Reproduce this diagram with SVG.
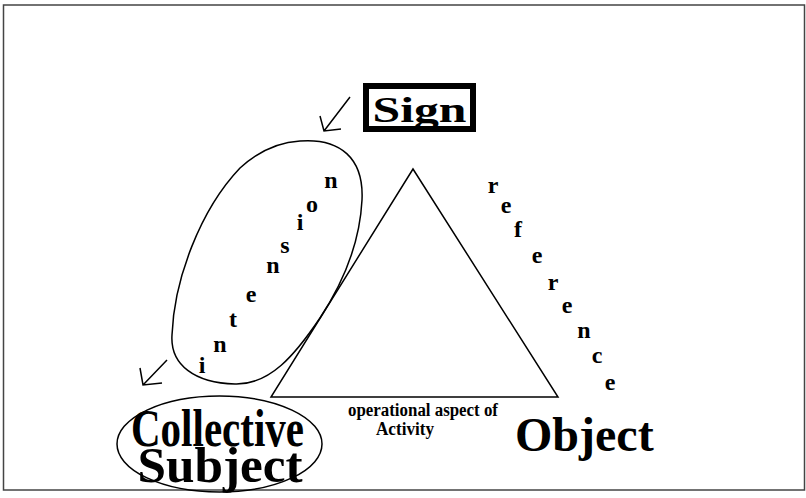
<svg xmlns="http://www.w3.org/2000/svg" width="806" height="498" viewBox="0 0 806 498">
<style>
.ln{fill:none;stroke:#000;stroke-width:1.5}
.t{font-family:"Liberation Serif","Times New Roman",serif;font-weight:bold;fill:#000}
.l{font-size:24px;text-anchor:middle}
</style>
<rect x="0" y="0" width="806" height="498" fill="#fff"/>
<rect id="frame" x="3.5" y="5" width="801" height="485" fill="none" stroke="#444" stroke-width="1.5"/>
<g id="triangle">
<polygon class="ln" points="413,169 271,397 558,397"/>
</g>
<g id="sign">
<rect x="366" y="86" width="107" height="43" fill="#fff" stroke="#000" stroke-width="6"/>
<text class="t" x="419.5" y="121.5" font-size="35" text-anchor="middle" textLength="94" lengthAdjust="spacingAndGlyphs">Sign</text>
</g>
<g id="intension">
<path class="ln" d="M300,141 C340,138 364,158 362,200 C360,240 345,280 320,318 C295,355 270,385 235,384 C195,383 170,365 172,335 C174,280 200,210 240,168 C262,148 282,142 300,141 Z"/>
<g class="t l">
<text x="202" y="373">i</text>
<text x="220" y="352">n</text>
<text x="233" y="327">t</text>
<text x="251" y="302">e</text>
<text x="273" y="273">n</text>
<text x="285" y="253">s</text>
<text x="300" y="230">i</text>
<text x="312" y="212">o</text>
<text x="331" y="188">n</text>
</g>
</g>
<g id="reference" class="t l">
<text x="493" y="193">r</text>
<text x="506" y="213">e</text>
<text x="518" y="237">f</text>
<text x="537" y="263">e</text>
<text x="553" y="290">r</text>
<text x="567" y="313">e</text>
<text x="584" y="338">n</text>
<text x="597" y="363">c</text>
<text x="610" y="390">e</text>
</g>
<g id="collective-subject">
<ellipse class="ln" cx="219.5" cy="444" rx="102.5" ry="48" stroke-width="1"/>
<text class="t" x="217.5" y="446" font-size="52" text-anchor="middle" textLength="173" lengthAdjust="spacingAndGlyphs">Collective</text>
<text class="t" x="220" y="482" font-size="50" text-anchor="middle" textLength="165" lengthAdjust="spacingAndGlyphs">Subject</text>
</g>
<g id="object">
<text class="t" x="515" y="451" font-size="48">Object</text>
</g>
<g id="operational">
<text class="t" x="348" y="416" font-size="18" textLength="150" lengthAdjust="spacingAndGlyphs">operational aspect of</text>
<text class="t" x="376" y="435" font-size="18" textLength="58" lengthAdjust="spacingAndGlyphs">Activity</text>
</g>
<g id="connectors">
<path class="ln" d="M350,97 L324,131 M320,116 L324,131 L341,129"/>
<path class="ln" d="M167,360 L143,385 M140,368 L143,385 L162,383"/>
</g>
</svg>
